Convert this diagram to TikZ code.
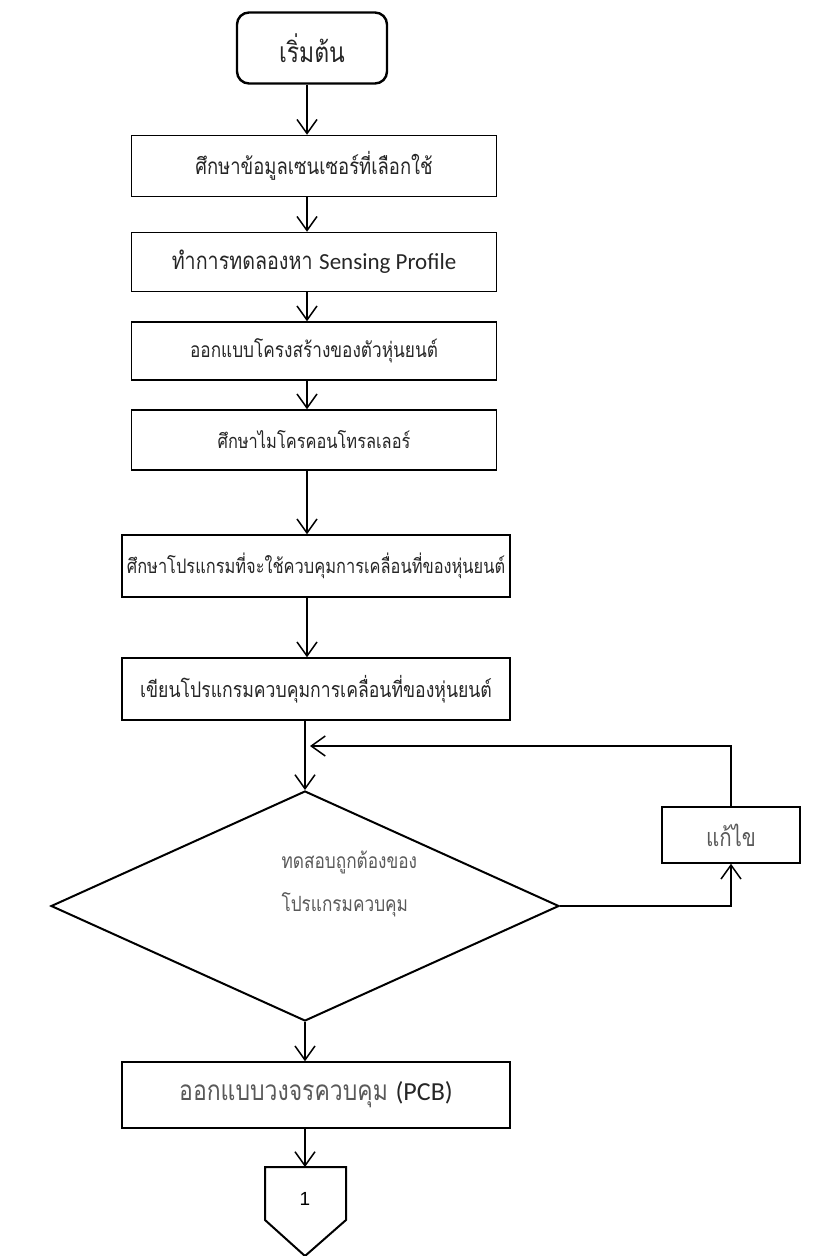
\documentclass[tikz,border=0pt]{standalone}
\usepackage{fontspec}
\setmainfont{Carlito}
\newfontfamily\thai[Script=Thai, FakeStretch=0.82]{Loma}
\newfontfamily\latin{Carlito}
\newcommand\tsz[1]{\fontsize{#1}{#1}\selectfont}
\usetikzlibrary{arrows.meta,shapes.geometric}
\begin{document}
\begin{tikzpicture}[x=1pt,y=-1pt,
  txt/.style={font=\thai\tsz{21}, text=black!85},
  soft/.style={text=black!65},
  box/.style={draw, line width=1.5pt, inner sep=0pt, txt},
  narrow/.style={box, minimum width=365pt},
  wide/.style={box, minimum width=388pt},
  startbox/.style={draw, line width=2.4pt, rounded corners=12pt, minimum width=150pt, minimum height=71pt, inner sep=0pt, txt},
  decision/.style={draw, diamond, aspect=2.2, line width=2pt, minimum width=508pt, minimum height=230pt, inner sep=0pt},
  flow/.style={line width=1.5pt, -{Straight Barb[length=14pt,width=20pt,line width=1.5pt]}},
  offpage/.style={line width=2pt, line join=miter}
]
\useasboundingbox (0,0) rectangle (816,1256);

% main axis of the flow
\coordinate (ax) at (307,0);

\node[startbox, font=\thai\tsz{28}] (s) at (312,48) {เริ่มต้น};
\node[narrow, minimum height=61pt, font=\thai\tsz{22.5}] (b1) at (314,166) {ศึกษาข้อมูลเซนเซอร์ที่เลือกใช้};
\node[narrow, minimum height=59pt, font=\thai\tsz{24}] (b2) at (314,262) {ทำการทดลองหา {\latin\tsz{23}Sensing Profile}};
\node[narrow, minimum height=58pt, font=\thai\tsz{21}] (b3) at (314,351) {ออกแบบโครงสร้างของตัวหุ่นยนต์};
\node[narrow, minimum height=60pt, font=\thai\tsz{20}] (b4) at (314,440) {ศึกษาไมโครคอนโทรลเลอร์};
\node[wide, minimum height=62pt, font=\thai\tsz{20}] (b5) at (316,566) {ศึกษาโปรแกรมที่จะใช้ควบคุมการเคลื่อนที่ของหุ่นยนต์};
\node[wide, minimum height=62pt, font=\thai\tsz{21.5}] (b6) at (316,689) {เขียนโปรแกรมควบคุมการเคลื่อนที่ของหุ่นยนต์};
\node[decision] (dia) at (305,906) {};
\node[txt, soft, align=left, anchor=west, font=\thai\fontsize{21}{43}\selectfont] (dt) at (278,884) {ทดสอบถูกต้องของ\\โปรแกรมควบคุม};
\node[box, soft, minimum width=138pt, minimum height=56pt, font=\thai\tsz{25}] (fix) at (731,835) {แก้ไข};
\node[wide, minimum height=66pt, font=\thai\tsz{28}] (b7) at (316,1095) {{\color{black!65}ออกแบบวงจรควบคุม} {\latin\tsz{26}(PCB)}};

% off-page connector
\coordinate (ctop) at (305,1167);
\draw[offpage] (265,1167) -- (346,1167) -- (346,1220) -- (305,1256) -- (265,1220) -- cycle;
\node[font=\fontspec{Liberation Sans}\tsz{19}] (c1) at (305,1199) {1};

% connectors
\draw[flow] (s.south -| ax) -- (b1.north -| ax);
\draw[flow] (b1.south -| ax) -- (b2.north -| ax);
\draw[flow] (b2.south -| ax) -- (b3.north -| ax);
\draw[flow] (b3.south -| ax) -- (b4.north -| ax);
\draw[flow] (b4.south -| ax) -- (b5.north -| ax);
\draw[flow] (b5.south -| ax) -- (b6.north -| ax);
\coordinate (j) at (310,746);
\draw[flow] (b6.south -| dia.north) -- (dia.north);
\draw[flow] (dia.east) -| (fix.south);
\draw[flow] (fix.north) |- (j);
\draw[flow] (dia.south) -- (b7.north -| dia.south);
\draw[flow] (b7.south -| ctop) -- (ctop);
\end{tikzpicture}
\end{document}
